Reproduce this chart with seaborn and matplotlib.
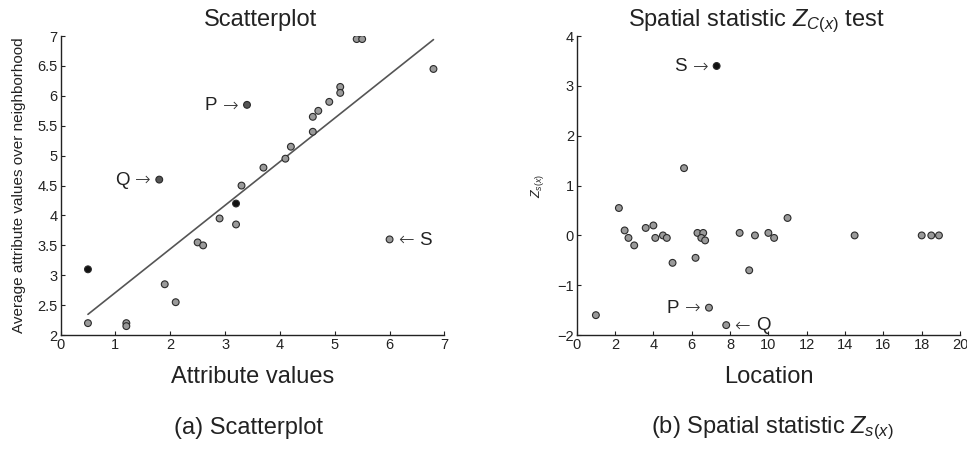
import numpy as np
import pandas as pd
import matplotlib
matplotlib.use("Agg")
import matplotlib.pyplot as plt
import seaborn as sns
from matplotlib.ticker import FuncFormatter

# ---------------- data ----------------
attr_x = [0.5, 0.5, 1.2, 1.2, 1.8, 1.9, 2.1, 2.5, 2.6, 2.9, 3.2, 3.2, 3.3, 3.4,
          3.7, 4.1, 4.2, 4.6, 4.6, 4.7, 4.9, 5.1, 5.1, 5.4, 5.5, 6.0, 6.8]
attr_y = [2.2, 3.1, 2.2, 2.15, 4.6, 2.85, 2.55, 3.55, 3.5, 3.95, 3.85, 4.2, 4.5, 5.85,
          4.8, 4.95, 5.15, 5.4, 5.65, 5.75, 5.9, 6.15, 6.05, 6.95, 6.95, 3.6, 6.45]
attr_kind = ["normal", "black", "normal", "normal", "dark", "normal", "normal", "normal",
             "normal", "normal", "normal", "black", "normal", "dark", "normal", "normal",
             "normal", "normal", "normal", "normal", "normal", "normal", "normal", "normal",
             "normal", "normal", "normal"]

loc_x = [1.0, 2.2, 2.5, 2.7, 3.0, 3.6, 4.0, 4.1, 4.5, 4.7, 5.0, 5.6, 6.2, 6.3, 6.6,
         6.5, 6.7, 6.9, 7.3, 7.8, 8.5, 9.0, 9.3, 10.0, 10.3, 11.0, 14.5, 18.0, 18.5, 18.9]
loc_z = [-1.6, 0.55, 0.1, -0.05, -0.2, 0.15, 0.2, -0.05, 0.0, -0.05, -0.55, 1.35, -0.45,
         0.05, 0.05, -0.05, -0.1, -1.45, 3.4, -1.8, 0.05, -0.7, 0.0, 0.05, -0.05, 0.35,
         0.0, 0.0, 0.0, 0.0]
loc_kind = ["normal"] * 30
loc_kind[18] = "black"

left_xticks = [0, 1, 2, 3, 4, 5, 6, 7]
left_yticks = [2, 2.5, 3, 3.5, 4, 4.5, 5, 5.5, 6, 6.5, 7]
right_xticks = [0, 2, 4, 6, 8, 10, 12, 14, 16, 18, 20]
right_yticks = [-2, -1, 0, 1, 2, 3, 4]

# (letter, x, y, side of the point where the label sits)
left_notes = [("P", 3.4, 5.85, "left"), ("Q", 1.8, 4.6, "left"), ("S", 6.0, 3.6, "right")]
right_notes = [("S", 7.3, 3.4, "left"), ("P", 6.9, -1.45, "left"), ("Q", 7.8, -1.8, "right")]

# ---------------- style ----------------
sns.set_style("ticks")
plt.rcParams["font.family"] = ["Liberation Sans", "DejaVu Sans"]
plt.rcParams["mathtext.fontset"] = "custom"
plt.rcParams["mathtext.rm"] = "Liberation Sans"
plt.rcParams["mathtext.it"] = "Liberation Sans:italic"
plt.rcParams["axes.unicode_minus"] = True

palette = {"normal": "#9a9a9a", "dark": "#555555", "black": "#111111"}
TXT = "#222222"

fig = plt.figure(figsize=(9.67, 4.51), dpi=100)
ax1 = fig.add_axes([0.0626, 0.257, 0.397, 0.663])
ax2 = fig.add_axes([0.5964, 0.257, 0.3964, 0.663])

df1 = pd.DataFrame({"x": attr_x, "y": attr_y, "kind": attr_kind})
df2 = pd.DataFrame({"x": loc_x, "y": loc_z, "kind": loc_kind})

# regression line
sns.regplot(data=df1, x="x", y="y", scatter=False, ci=None, ax=ax1,
            line_kws=dict(color="#555555", lw=1.2))
sns.scatterplot(data=df1, x="x", y="y", hue="kind", palette=palette, ax=ax1,
                s=24, edgecolor="#2a2a2a", linewidth=0.8, legend=False, zorder=3)
sns.scatterplot(data=df2, x="x", y="y", hue="kind", palette=palette, ax=ax2,
                s=24, edgecolor="#2a2a2a", linewidth=0.8, legend=False, zorder=3)

for ax in (ax1, ax2):
    sns.despine(ax=ax)
    ax.tick_params(direction="in", length=3, width=0.8, labelsize=10.5,
                   colors=TXT, pad=2)
    for sp in ("left", "bottom"):
        ax.spines[sp].set_color("#222222")
        ax.spines[sp].set_linewidth(1.0)

ax1.set_xlim(0, 7)
ax1.set_ylim(2, 7)
ax1.set_xticks(left_xticks)
ax1.set_yticks(left_yticks)
ax1.yaxis.set_major_formatter(FuncFormatter(lambda v, p: f"{v:g}"))
ax1.set_xlabel("Attribute values", fontsize=17, color=TXT, labelpad=10)
ax1.set_ylabel("Average attribute values over neighborhood", fontsize=11,
               color=TXT, labelpad=8)
ax1.set_title("Scatterplot", fontsize=17, color=TXT, x=0.52, pad=7)

ax2.set_xlim(0, 20)
ax2.set_ylim(-2, 4)
ax2.set_xticks(right_xticks)
ax2.set_yticks(right_yticks)
ax2.yaxis.set_major_formatter(FuncFormatter(lambda v, p: f"{v:g}".replace("-", "\u2212")))
ax2.set_xlabel("Location", fontsize=17, color=TXT, labelpad=10)
ax2.set_ylabel(r"$Z_{s(x)}$", fontsize=9, color=TXT, labelpad=8)
ax2.set_title(r"Spatial statistic $Z_{C(x)}$ test", fontsize=17, color=TXT,
              x=0.47, pad=7)

for ax, notes in ((ax1, left_notes), (ax2, right_notes)):
    for letter, x, y, side in notes:
        if side == "left":
            arrow, sgn, ha = "\u2192", -1, "right"
        else:
            arrow, sgn, ha = "\u2190", 1, "left"
        ax.annotate(arrow, xy=(x, y), xytext=(sgn * 6.0, 0), textcoords="offset points",
                    ha=ha, va="center", fontsize=13.5, color="#333333",
                    family=["DejaVu Sans"], fontweight="light")
        ax.annotate(letter, xy=(x, y), xytext=(sgn * 21.5, -0.5), textcoords="offset points",
                    ha=ha, va="center", fontsize=13.5, color=TXT)

fig.text(0.257, 0.051, "(a) Scatterplot", ha="center", va="center",
         fontsize=17, color=TXT)
fig.text(0.799, 0.051, r"(b) Spatial statistic $Z_{s(x)}$", ha="center",
         va="center", fontsize=17, color=TXT)

fig.savefig("out.png", dpi=100)
